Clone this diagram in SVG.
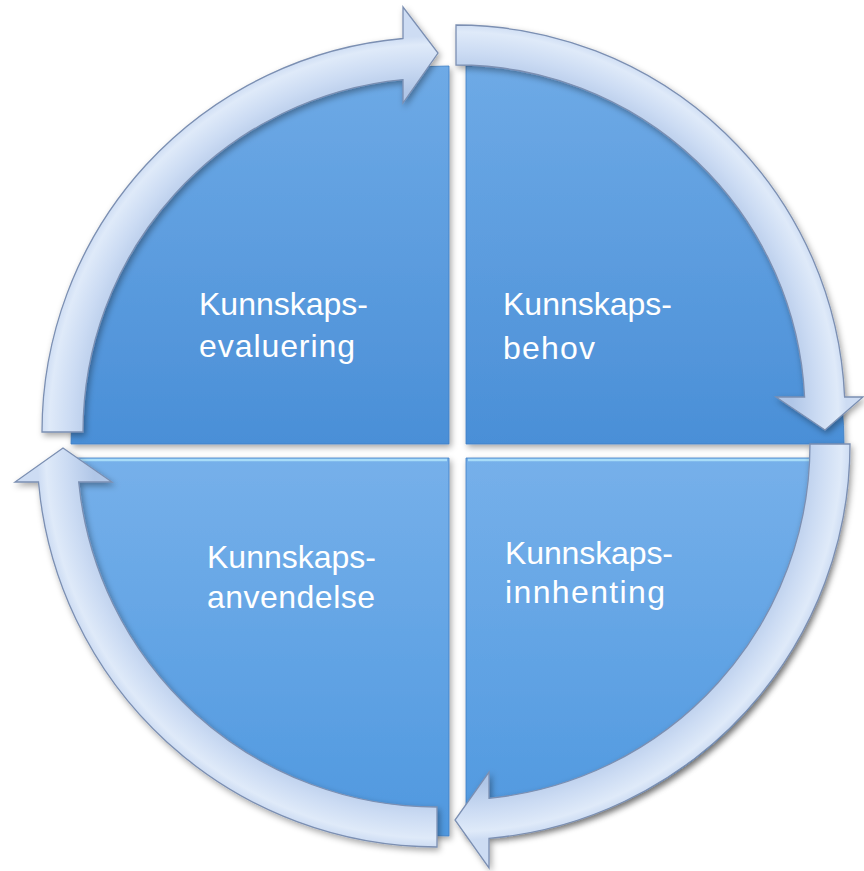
<svg xmlns="http://www.w3.org/2000/svg" width="864" height="871" viewBox="0 0 864 871">
  <style>
    .quad { stroke: #3f7fc4; stroke-width: 0.8; filter: url(#shadow); }
    .top { fill: url(#gTop); }
    .bot { fill: url(#gBot); }
    .hl { fill: none; stroke: #a8dcf8; stroke-width: 2.5; }
    .label { font-family: "Liberation Sans", Arial, sans-serif; font-size: 32px; fill: #ffffff; }
    .arrow { stroke: #7b8fb2; stroke-width: 1.3; stroke-linejoin: miter; filter: url(#shadow); }
  </style>
  <defs>
    <filter id="shadow" x="-10%" y="-10%" width="125%" height="125%">
      <feDropShadow dx="2" dy="3" stdDeviation="3" flood-color="#000000" flood-opacity="0.35"/>
    </filter>
    <linearGradient id="gTop" x1="0" y1="0" x2="0" y2="1">
      <stop offset="0" stop-color="#6eaae6"/>
      <stop offset="1" stop-color="#4a8fd7"/>
    </linearGradient>
    <linearGradient id="gBot" x1="0" y1="0" x2="0" y2="1">
      <stop offset="0" stop-color="#76b0ea"/>
      <stop offset="1" stop-color="#4f98df"/>
    </linearGradient>
    <radialGradient id="rTL" gradientUnits="userSpaceOnUse" cx="437" cy="432" r="426">
      <stop offset="0.80" stop-color="#b0c6e7"/>
      <stop offset="0.86" stop-color="#cbdbf3"/>
      <stop offset="0.91" stop-color="#dfeaf9"/>
      <stop offset="0.93" stop-color="#cddcf3"/>
    </radialGradient>
    <radialGradient id="rTR" gradientUnits="userSpaceOnUse" cx="456" cy="414" r="420">
      <stop offset="0.80" stop-color="#b0c6e7"/>
      <stop offset="0.86" stop-color="#cbdbf3"/>
      <stop offset="0.91" stop-color="#dfeaf9"/>
      <stop offset="0.93" stop-color="#cddcf3"/>
    </radialGradient>
    <radialGradient id="rBR" gradientUnits="userSpaceOnUse" cx="454" cy="444" r="426">
      <stop offset="0.80" stop-color="#b0c6e7"/>
      <stop offset="0.86" stop-color="#cbdbf3"/>
      <stop offset="0.91" stop-color="#dfeaf9"/>
      <stop offset="0.93" stop-color="#cddcf3"/>
    </radialGradient>
    <radialGradient id="rBL" gradientUnits="userSpaceOnUse" cx="437" cy="447" r="430">
      <stop offset="0.80" stop-color="#b0c6e7"/>
      <stop offset="0.86" stop-color="#cbdbf3"/>
      <stop offset="0.91" stop-color="#dfeaf9"/>
      <stop offset="0.93" stop-color="#cddcf3"/>
    </radialGradient>
  </defs>

  <rect x="0" y="0" width="864" height="871" fill="#ffffff"/>

  <g id="node-evaluering">
    <path class="quad top" d="M 449,444 L 71,444 A 378 378 0 0 1 449,66 Z"/>
    <text class="label" x="199" y="315" textLength="169" lengthAdjust="spacing">Kunnskaps-</text>
    <text class="label" x="199" y="357" textLength="156" lengthAdjust="spacing">evaluering</text>
  </g>

  <g id="node-behov">
    <path class="quad top" d="M 466,444 L 466,66 A 378 378 0 0 1 844,444 Z"/>
    <text class="label" x="503" y="315" textLength="169" lengthAdjust="spacing">Kunnskaps-</text>
    <text class="label" x="503" y="359" textLength="92" lengthAdjust="spacing">behov</text>
  </g>

  <g id="node-innhenting">
    <path class="quad bot" d="M 466,458 L 844,458 A 378 378 0 0 1 466,836 Z"/>
    <path class="hl" d="M 468,460 L 842,460"/>
    <text class="label" x="505" y="564" textLength="168" lengthAdjust="spacing">Kunnskaps-</text>
    <text class="label" x="505" y="603" textLength="160" lengthAdjust="spacing">innhenting</text>
  </g>

  <g id="node-anvendelse">
    <path class="quad bot" d="M 449,458 L 449,836 A 378 378 0 0 1 71,458 Z"/>
    <path class="hl" d="M 73,460 L 447,460"/>
    <text class="label" x="207" y="568" textLength="169" lengthAdjust="spacing">Kunnskaps-</text>
    <text class="label" x="207" y="608" textLength="168" lengthAdjust="spacing">anvendelse</text>
  </g>

  <g id="connectors">
    <path class="arrow" fill="url(#rTL)" d="M 42,432 A 395 395 0 0 1 403,38.5 L 403,7 L 438,53 L 403,103 L 403,79.6 A 354 354 0 0 0 83,432 Z"/>
    <path class="arrow" fill="url(#rTR)" d="M 456,25 A 389 389 0 0 1 844.6,397 L 863,397 L 825,430 L 776,397 L 804.6,397 A 349 349 0 0 0 456,65 Z"/>
    <path class="arrow" fill="url(#rBR)" d="M 850,444 A 396 396 0 0 1 489,838.4 L 489,868 L 455,820 L 489,772 L 489,798.3 A 356 356 0 0 0 810,444 Z"/>
    <path class="arrow" fill="url(#rBL)" d="M 437,847 A 400 400 0 0 1 38.5,482 L 15,482 L 63,448 L 112,482 L 78.7,482 A 360 360 0 0 0 437,807 Z"/>
  </g>
</svg>
